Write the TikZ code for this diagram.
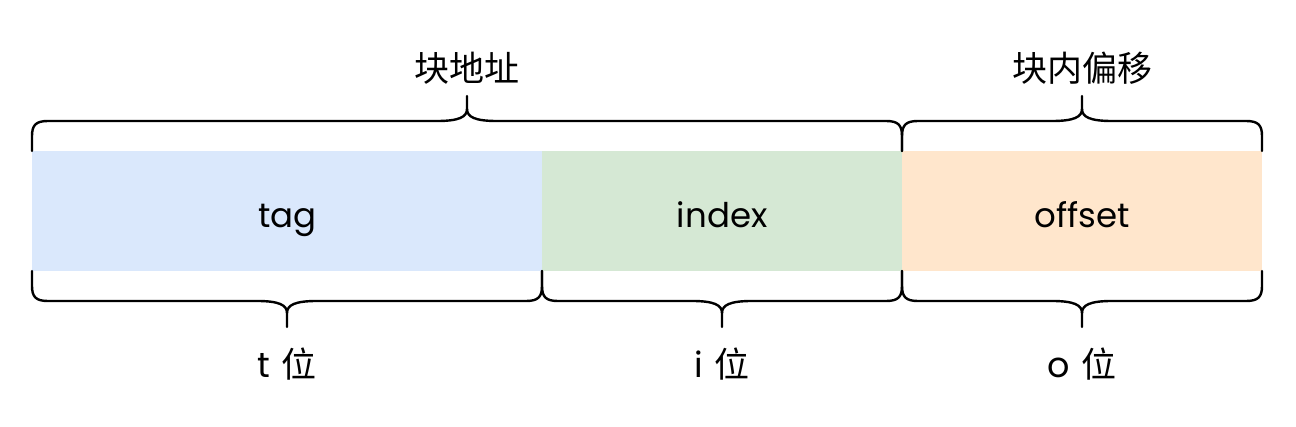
\documentclass[tikz,border=0pt]{standalone}
\usepackage{fontspec}
\setmainfont{Poppins}
\newfontfamily\cjk{Noto Sans CJK SC}
\definecolor{cblue}{HTML}{DAE8FC}
\definecolor{cgreen}{HTML}{D5E8D4}
\definecolor{corange}{HTML}{FFE6CC}
\newcommand{\mybrace}[6]{% x1,x2,yend,yh,ytip,sign
  \draw[bracestyle] ({#1},{#3}) -- ({#1},{#4-15*(#6)}) .. controls ({#1},{#4-4*(#6)}) and ({#1+4},{#4}) .. ({#1+16},{#4})
    -- ({(#1+#2)/2-30},{#4}) .. controls ({(#1+#2)/2-8},{#4}) and ({(#1+#2)/2},{#4+4*(#6)}) .. ({(#1+#2)/2},{#4+12*(#6)}) -- ({(#1+#2)/2},{#5});
  \draw[bracestyle] ({(#1+#2)/2},{#4+12*(#6)}) .. controls ({(#1+#2)/2},{#4+4*(#6)}) and ({(#1+#2)/2+8},{#4}) .. ({(#1+#2)/2+30},{#4})
    -- ({#2-16},{#4}) .. controls ({#2-4},{#4}) and ({#2},{#4-4*(#6)}) .. ({#2},{#4-15*(#6)}) -- ({#2},{#3});
}
\begin{document}
\begin{tikzpicture}[x=1pt,y=1pt,
  field/.style={draw=none,minimum height=120pt,inner sep=0pt,text height=40pt,text depth=6pt,anchor=south west,font=\fontsize{34}{40}\selectfont},
  bracestyle/.style={line width=2.4pt,line cap=round,line join=round,black},
  lab/.style={font=\cjk\fontsize{35}{40}\selectfont,inner sep=0pt}]
\useasboundingbox (0,0) rectangle (1296,426);
\node[field,fill=cblue,minimum width=510pt] (tag) at (32,155) {tag};
\node[field,fill=cgreen,minimum width=360pt] (index) at (542,155) {index};
\node[field,fill=corange,minimum width=360pt] (offset) at (902,155) {offset};
\mybrace{32}{902}{275}{305}{330}{1}
\mybrace{902}{1262}{275}{305}{330}{1}
\mybrace{32}{542}{155}{125}{99}{-1}
\mybrace{542}{902}{155}{125}{99}{-1}
\mybrace{902}{1262}{155}{125}{99}{-1}
\node[lab] (blk) at (467,358) {块地址};
\node[lab] (blkoff) at (1082,358) {块内偏移};
\node[lab] (tb) at (287,62) {\fontspec{Poppins}t\hspace{12pt}\cjk 位};
\node[lab] (ib) at (722,62) {\fontspec{Poppins}i\hspace{12pt}\cjk 位};
\node[lab] (ob) at (1082,62) {\fontspec{Poppins}o\hspace{12pt}\cjk 位};
\end{tikzpicture}
\end{document}
